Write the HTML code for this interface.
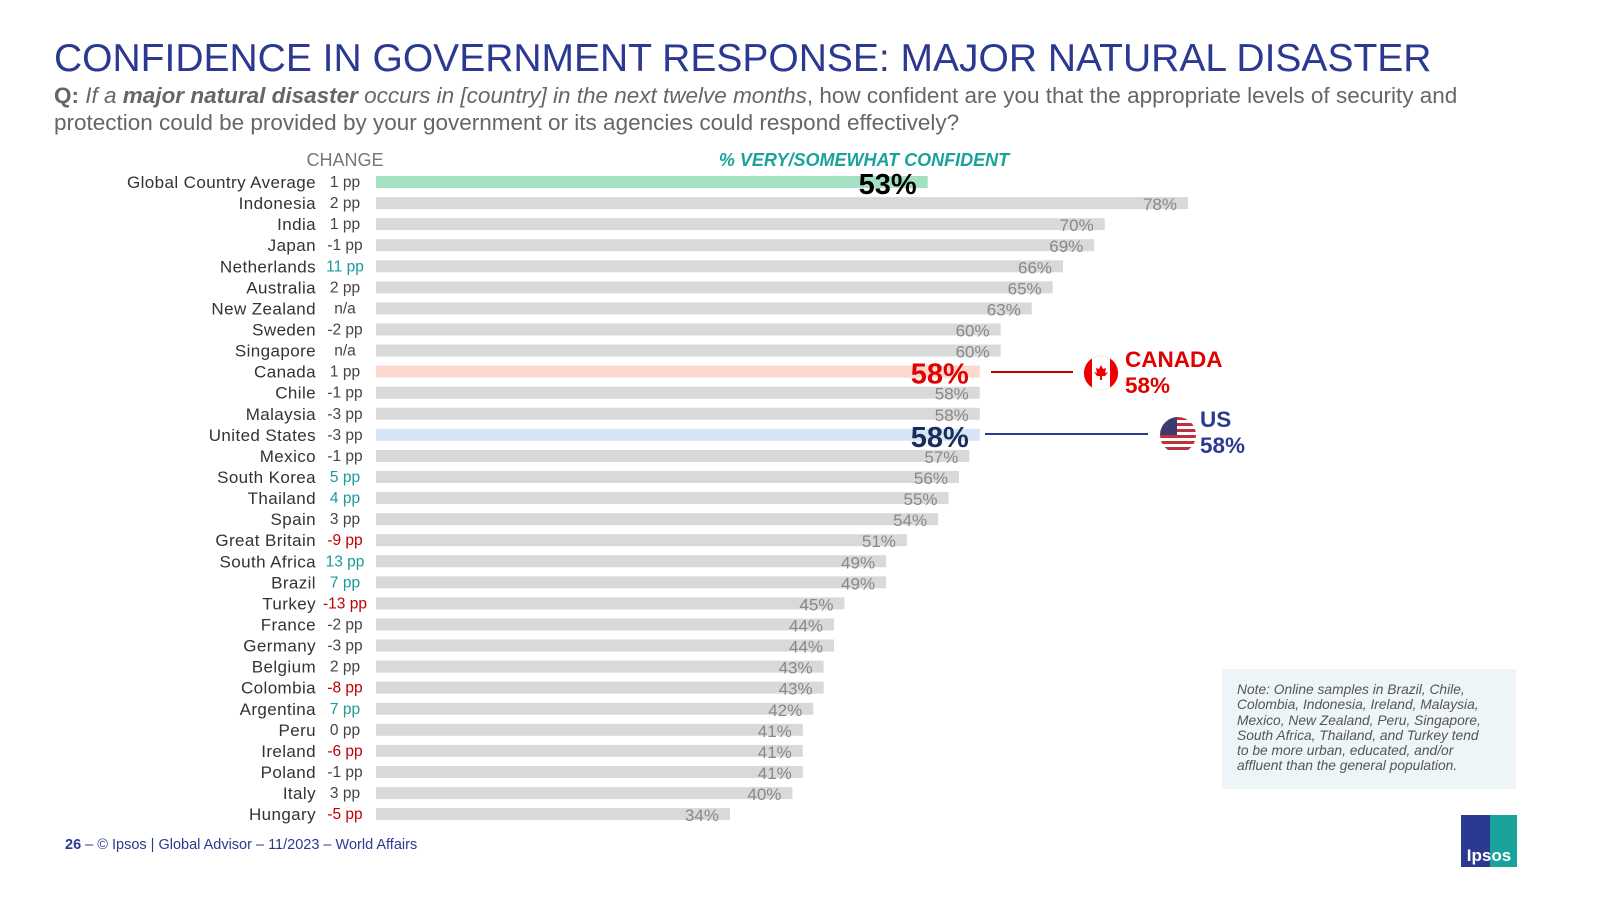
<!DOCTYPE html>
<html><head><meta charset="utf-8"><style>
body{margin:0;background:#fff;font-family:"Liberation Sans",sans-serif;}
svg text{font-family:"Liberation Sans",sans-serif;}
</style></head><body>
<svg id="chart" width="1600" height="900" viewBox="0 0 1600 900" xmlns="http://www.w3.org/2000/svg">
<text x="54" y="71" font-size="39" fill="#2b3990">CONFIDENCE IN GOVERNMENT RESPONSE: MAJOR NATURAL DISASTER</text>
<text x="54" y="103" font-size="22.5" fill="#666"><tspan font-weight="bold">Q:</tspan> <tspan font-style="italic">If a </tspan><tspan font-style="italic" font-weight="bold">major natural disaster</tspan><tspan font-style="italic"> occurs in [country] in the next twelve months</tspan>, how confident are you that the appropriate levels of security and</text>
<text x="54" y="130" font-size="22.5" fill="#666">protection could be provided by your government or its agencies could respond effectively?</text>
<text x="345" y="166" font-size="18" fill="#777" text-anchor="middle">CHANGE</text>
<text x="864" y="166" font-size="18" fill="#1aa39a" font-weight="bold" font-style="italic" text-anchor="middle">% VERY/SOMEWHAT CONFIDENT</text>
<g id="bars"></g>
<line x1="991" y1="372" x2="1073" y2="372" stroke="#c00000" stroke-width="2"/>
<g>
<circle cx="1101" cy="373" r="17" fill="#fff" stroke="#eee"/>
<path d="M1084,373 a17,17 0 0 1 8,-14.5 v29 a17,17 0 0 1 -8,-14.5z" fill="#e00"/>
<path d="M1118,373 a17,17 0 0 0 -8,-14.5 v29 a17,17 0 0 0 8,-14.5z" fill="#e00"/>
<path d="M1101,365 l2,4 3,-1 -1,5 3,-1 -3,4 h-3 v4 h-2 v-4 h-3 l-3,-4 3,1 -1,-5 3,1z" fill="#e00"/>
</g>
<text x="1125" y="367" font-size="22.5" font-weight="bold" fill="#e00000">CANADA</text>
<text x="1125" y="393" font-size="22.5" font-weight="bold" fill="#e00000">58%</text>
<line x1="985" y1="434" x2="1148" y2="434" stroke="#2b3990" stroke-width="2"/>
<g>
<clipPath id="uc"><circle cx="1178" cy="435" r="18"/></clipPath>
<g clip-path="url(#uc)">
<rect x="1160" y="417" width="36" height="36" fill="#fff"/>
<rect x="1160" y="417" width="36" height="3" fill="#c0303a"/><rect x="1160" y="423" width="36" height="3" fill="#c0303a"/><rect x="1160" y="429" width="36" height="3" fill="#c0303a"/><rect x="1160" y="435" width="36" height="3" fill="#c0303a"/><rect x="1160" y="441" width="36" height="3" fill="#c0303a"/><rect x="1160" y="447" width="36" height="3" fill="#c0303a"/>
<rect x="1160" y="417" width="17" height="18" fill="#3c3b6e"/>
</g></g>
<text x="1200" y="427" font-size="22.5" font-weight="bold" fill="#2b3990">US</text>
<text x="1200" y="453" font-size="22.5" font-weight="bold" fill="#2b3990">58%</text>
<rect x="1222" y="669" width="294" height="120" fill="#eef5f9"/>
<g font-size="13.8" font-style="italic" fill="#555">
<text x="1237" y="694">Note: Online samples in Brazil, Chile,</text>
<text x="1237" y="709">Colombia, Indonesia, Ireland, Malaysia,</text>
<text x="1237" y="725">Mexico, New Zealand, Peru, Singapore,</text>
<text x="1237" y="740">South Africa, Thailand, and Turkey tend</text>
<text x="1237" y="755">to be more urban, educated, and/or</text>
<text x="1237" y="770">affluent than the general population.</text>
</g>
<text x="65" y="849" font-size="14.5" fill="#2b3990"><tspan font-weight="bold">26</tspan> –   © Ipsos | Global Advisor – 11/2023 – World Affairs</text>
<g>
<rect x="1461" y="815" width="56" height="52" fill="#2b3990"/>
<rect x="1490" y="815" width="27" height="52" fill="#1aa39a"/>
<text x="1489" y="861" font-size="17" font-weight="bold" fill="#fff" text-anchor="middle">Ipsos</text>
</g>
</svg>
<script>
const countries=["Global Country Average","Indonesia","India","Japan","Netherlands","Australia","New Zealand","Sweden","Singapore","Canada","Chile","Malaysia","United States","Mexico","South Korea","Thailand","Spain","Great Britain","South Africa","Brazil","Turkey","France","Germany","Belgium","Colombia","Argentina","Peru","Ireland","Poland","Italy","Hungary"];
const values=[53,78,70,69,66,65,63,60,60,58,58,58,58,57,56,55,54,51,49,49,45,44,44,43,43,42,41,41,41,40,34];
const changes=[1,2,1,-1,11,2,null,-2,null,1,-1,-3,-3,-1,5,4,3,-9,13,7,-13,-2,-3,2,-8,7,0,-6,-1,3,-5];
const x0=376, pxPer=10.41, y0=182, step=21.07;
function xs(v){return x0+v*pxPer;}
function ys(i){return y0+i*step;}
const NS="http://www.w3.org/2000/svg";
const g=document.getElementById('bars');
function mk(tag,attrs,txt){const e=document.createElementNS(NS,tag);for(const k in attrs)e.setAttribute(k,attrs[k]);if(txt!=null)e.textContent=txt;g.appendChild(e);return e;}
countries.forEach((c,i)=>{
  const y=ys(i),v=values[i];
  let fill="#d9d9d9",lc="#888",lsz=17,lw="normal";
  if(c==="Global Country Average"){fill="#a3e1c3";lc="#000";lsz=29;lw="bold";}
  else if(c==="Canada"){fill="#fdd8cf";lc="#e00000";lsz=29;lw="bold";}
  else if(c==="United States"){fill="#d6e4f7";lc="#1a2d5a";lsz=29;lw="bold";}
  const r=mk('rect',{x:x0,y:y-6,width:xs(v)-x0,height:12,fill:fill});
  
  
  const big=lsz>17;
  const t=mk('text',{x:xs(v)-11,y:big?y+12:y+7,'font-size':lsz,'font-weight':lw,fill:lc,'text-anchor':'end'},v+'%');
  
  
  const n=mk('text',{x:316,y:y+6,'font-size':17,'letter-spacing':'0.4',fill:'#333','text-anchor':'end'},c);
  
  
  const ch=changes[i];
  let cc="#444";
  if(ch!==null&&ch>=4)cc="#1a9a9a";
  if(ch!==null&&ch<=-5)cc="#c00000";
  const ct=mk('text',{x:345,y:y+5,'font-size':15.5,fill:cc,'text-anchor':'middle'},ch===null?'n/a':ch+' pp');
  
  
});
</script>
</body></html>
